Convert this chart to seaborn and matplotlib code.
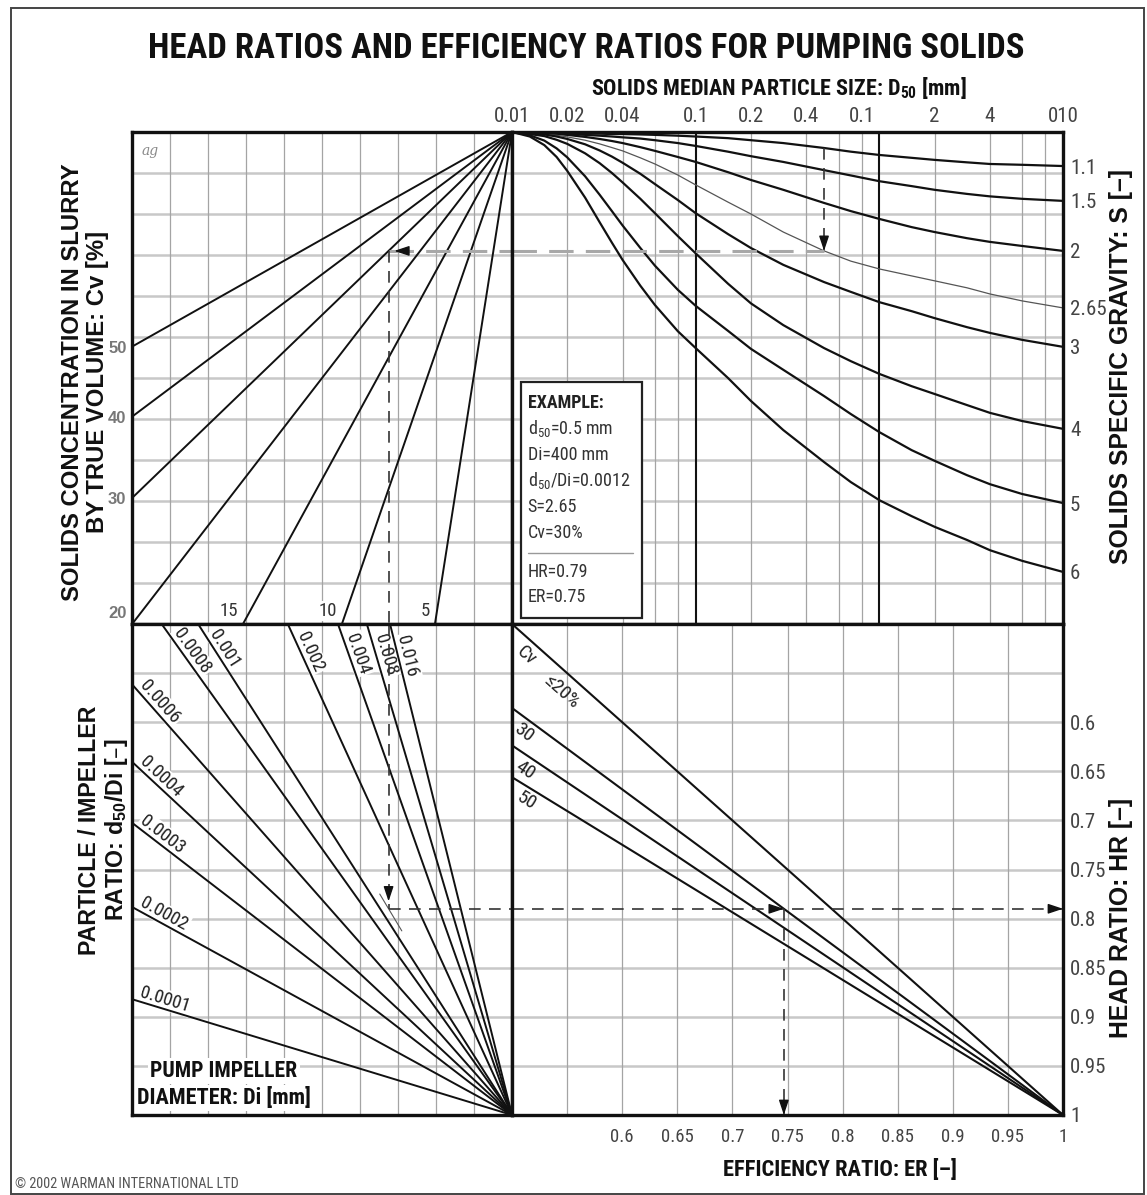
import os
import numpy as np
import pandas as pd
import matplotlib
matplotlib.use("Agg")
import matplotlib.pyplot as plt
import seaborn as sns
from matplotlib import font_manager
from matplotlib.font_manager import FontProperties
from matplotlib.patches import Rectangle
from matplotlib.ticker import NullLocator

# ---------------- values ----------------
d50_mm = [0.01, 0.0125, 0.015, 0.0175, 0.02, 0.025, 0.03, 0.035, 0.04, 0.05, 0.06, 0.08,
          0.1, 0.15, 0.2, 0.3, 0.5, 0.7, 1, 1.5, 2, 3, 4, 6, 10]
sg_names = ["1.1", "1.5", "2", "2.65", "3", "4", "5", "6"]
# depth of each S curve below the top edge, in grid rows (upper half has 12 rows)
sg_1_1 = [0, 0.02, 0.03, 0.03, 0.03, 0.04, 0.04, 0.05, 0.05, 0.06, 0.07, 0.09,
          0.11, 0.15, 0.20, 0.27, 0.39, 0.48, 0.56, 0.63, 0.68, 0.74, 0.78, 0.80, 0.83]
sg_1_5 = [0, 0.03, 0.03, 0.04, 0.05, 0.07, 0.09, 0.11, 0.13, 0.16, 0.20, 0.27,
          0.34, 0.48, 0.59, 0.73, 0.93, 1.06, 1.20, 1.32, 1.41, 1.51, 1.57, 1.63, 1.68]
sg_2 = [0, 0.03, 0.04, 0.05, 0.07, 0.12, 0.17, 0.22, 0.27, 0.37, 0.46, 0.61,
        0.73, 0.98, 1.17, 1.41, 1.73, 1.93, 2.12, 2.32, 2.44, 2.59, 2.68, 2.78, 2.90]
sg_2_65 = [0, 0.03, 0.05, 0.08, 0.12, 0.20, 0.29, 0.38, 0.46, 0.63, 0.78, 1.05,
           1.29, 1.71, 2.00, 2.44, 2.90, 3.15, 3.34, 3.51, 3.63, 3.80, 3.95, 4.12, 4.29]
sg_3 = [0, 0.03, 0.06, 0.11, 0.17, 0.30, 0.45, 0.60, 0.75, 1.02, 1.27, 1.66,
        1.98, 2.49, 2.83, 3.24, 3.66, 3.90, 4.15, 4.37, 4.54, 4.76, 4.90, 5.07, 5.24]
sg_4 = [0, 0.05, 0.10, 0.19, 0.29, 0.52, 0.76, 1.00, 1.23, 1.63, 1.98, 2.54,
        2.96, 3.70, 4.18, 4.71, 5.27, 5.59, 5.90, 6.20, 6.39, 6.66, 6.85, 7.05, 7.24]
sg_5 = [0, 0.08, 0.21, 0.40, 0.62, 1.08, 1.53, 1.93, 2.28, 2.83, 3.26, 3.85,
        4.24, 4.85, 5.29, 5.80, 6.44, 6.88, 7.32, 7.76, 8.02, 8.37, 8.59, 8.83, 9.05]
sg_6 = [0, 0.11, 0.32, 0.61, 0.95, 1.60, 2.20, 2.70, 3.12, 3.75, 4.22, 4.86,
        5.27, 6.00, 6.56, 7.27, 8.05, 8.54, 8.98, 9.37, 9.63, 9.95, 10.20, 10.46, 10.73]
sg_curves = [sg_1_1, sg_1_5, sg_2, sg_2_65, sg_3, sg_4, sg_5, sg_6]

# Cv fan (upper left): columns moved left per row down
cv_values = [50, 40, 30, 20, 15, 10, 5]
cv_spread = [1.91, 1.44, 1.12, 0.833, 0.59, 0.373, 0.169]

# d50/Di fan (lower left): columns moved left per row up
ratio_names = ["0.0001", "0.0002", "0.0003", "0.0004", "0.0006", "0.0008",
               "0.001", "0.002", "0.004", "0.008", "0.016"]
ratio_spread = [4.24, 2.36, 1.68, 1.39, 1.14, 0.922, 0.826, 0.59, 0.458, 0.382, 0.321]

# HR/ER lines (lower right): HR where each line meets ER = 0.5
er_cv_names = ["≤20%", "30", "40", "50"]
er_cv_hr_start = [0.5, 0.5855, 0.6236, 0.656]

top_ticks = [0.01, 0.02, 0.04, 0.1, 0.2, 0.4, 0.8, 2, 4, 10]
top_tick_text = ["0.01", "0.02", "0.04", "0.1", "0.2", "0.4", "0.1", "2", "4", "010"]
d50_grid = [0.02, 0.04, 0.06, 0.08, 0.2, 0.4, 0.6, 0.8, 2, 4, 6, 8]
d50_heavy = [0.1, 1]
ratio_ticks = [0.6, 0.65, 0.7, 0.75, 0.8, 0.85, 0.9, 0.95, 1.0]
ratio_tick_text = ["0.6", "0.65", "0.7", "0.75", "0.8", "0.85", "0.9", "0.95", "1"]
ratio_grid = [0.55, 0.6, 0.65, 0.7, 0.75, 0.8, 0.85, 0.9, 0.95]

ex_d50, ex_sg, ex_cv, ex_hr = 0.5, "2.65", 30, 0.79
example_text = ["d$_{50}$=0.5 mm", "Di=400 mm", "d$_{50}$/Di=0.0012", "S=2.65", "Cv=30%"]
example_result = ["HR=0.79", "ER=0.75"]

# ---------------- fonts: narrow sans for most text, plain bold sans for side titles ----------------
sns.set_theme(style="white")
files = {os.path.basename(f.fname): f.fname for f in font_manager.fontManager.ttflist}
narrow_pairs = [
    ("LiberationSansNarrow-Regular.ttf", "LiberationSansNarrow-Bold.ttf"),
    ("ArialNarrow.ttf", "ArialNarrowBold.ttf"),
    ("RobotoCondensed-Regular.ttf", "RobotoCondensed-Bold.ttf"),
    ("NotoSans-Condensed.ttf", "NotoSans-CondensedBold.ttf"),
    ("DejaVuSansCondensed.ttf", "DejaVuSansCondensed-Bold.ttf"),
]
WIDE = ["Liberation Sans", "DejaVu Sans"]
FP_REG = FontProperties(family=WIDE)
FP_BOLD = FontProperties(family=WIDE, weight="bold")
for reg, bold in narrow_pairs:
    if reg in files and bold in files:
        FP_REG = FontProperties(fname=files[reg])
        FP_BOLD = FontProperties(fname=files[bold])
        break
FP_WIDE_BOLD = FP_BOLD
for name in ["LiberationSans-Bold.ttf", "Arial_Bold.ttf", "Roboto-Bold.ttf", "DejaVuSans-Bold.ttf"]:
    if name in files:
        FP_WIDE_BOLD = FontProperties(fname=files[name])
        break
plt.rcParams["font.family"] = WIDE
plt.rcParams["mathtext.default"] = "regular"

W, H = 1147, 1195
fig = plt.figure(figsize=(W / 100, H / 100), dpi=100)
fig.patch.set_facecolor("white")
renderer = fig.canvas.get_renderer()

X0, XM, X1 = 132, 512, 1063
Y0, YM, Y1 = 132, 624, 1115


def panel(l, t, r, b):
    ax = fig.add_axes([l / W, 1 - b / H, (r - l) / W, (b - t) / H])
    ax.set_facecolor("white")
    for sp in ax.spines.values():
        sp.set_linewidth(2.4)
        sp.set_color("#111111")
        sp.set_zorder(6)
    ax.tick_params(which="both", length=0, pad=5)
    return ax


def style_ticks(labels, size, color="#444444", fp=None):
    for lab in labels:
        lab.set_fontproperties(fp or FP_REG)
        lab.set_fontsize(size)
        lab.set_color(color)


def grid(ax, xs, ys):
    for x in xs:
        ax.axvline(x, color="#a4a4a4", lw=0.9, zorder=0.5)
    for y in ys:
        ax.axhline(y, color="#c8c8c8", lw=1.8, zorder=0.4)


def head(ax, x, y, dx, dy, color="#111111"):
    ax.annotate("", xy=(x, y), xytext=(dx, dy), textcoords="offset points",
                arrowprops=dict(arrowstyle="-|>,head_length=0.6,head_width=0.2",
                                mutation_scale=15, color=color, lw=1.0,
                                shrinkA=0, shrinkB=0),
                annotation_clip=False, zorder=5)


def along(ax, far, near, text, s, g, below=False, **kw):
    a = ax.transData.transform(far)
    b = ax.transData.transform(near)
    d = (b - a) / np.hypot(*(b - a))
    n = np.array([-d[1], d[0]])
    pos = a + d * s + (-n if below else n) * g
    x, y = ax.transData.inverted().transform(pos)
    ax.text(x, y, text, rotation=np.degrees(np.arctan2(d[1], d[0])),
            rotation_mode="anchor", ha="left", va="top" if below else "bottom",
            fontproperties=FP_REG, **kw)


def ftext(x, y, s, target=None, vertical=False, fp=None, **kw):
    t = fig.text(x / W, 1 - y / H, s, ha=kw.pop("ha", "center"), va="center",
                 fontproperties=fp or FP_BOLD, **kw)
    if target:
        bb = t.get_window_extent(renderer)
        cur = bb.height if vertical else bb.width
        t.set_fontsize(t.get_fontsize() * target / cur)
    return t


# ---------------- upper left: Cv fan ----------------
ax_tl = panel(X0, Y0, XM, YM)
grid(ax_tl, range(1, 10), range(1, 12))
for cv, k in zip(cv_values, cv_spread):
    sns.lineplot(x=[10 - 12 * k, 10], y=[12, 0], ax=ax_tl, color="#111111",
                 linewidth=1.4, estimator=None)
ax_tl.set_xlim(0, 10)
ax_tl.set_ylim(12, 0)
ax_tl.set(xlabel="", ylabel="")
ax_tl.set_xticks([])
ax_tl.set_yticks([min(10 / k, 11.7) for k in cv_spread[:4]], [str(v) for v in cv_values[:4]])
style_ticks(ax_tl.get_yticklabels(), 12, "#777777", FP_WIDE_BOLD)
ax_tl.tick_params(axis="y", pad=4)
for cv, k in zip(cv_values[4:], cv_spread[4:]):
    ax_tl.text(10 - 12 * k - 0.12, 11.68, str(cv), ha="right", va="center",
               fontproperties=FP_REG, fontsize=13.5, color="#333333", zorder=1.5,
               bbox=dict(boxstyle="square,pad=0.05", fc="white", ec="none"))
ax_tl.text(0.025, 0.975, "ag", transform=ax_tl.transAxes, ha="left", va="top",
           family="DejaVu Serif", style="italic", fontsize=10, color="#8a8a8a")

# ---------------- upper right: S curves ----------------
ax_tr = panel(XM, Y0, X1, YM)
ax_tr.set_xscale("log")
grid(ax_tr, d50_grid, range(1, 12))
for x in d50_heavy:
    ax_tr.axvline(x, color="#111111", lw=1.5, zorder=1)
curve_df = pd.DataFrame({
    "d50": np.tile(d50_mm, len(sg_names)),
    "row": np.concatenate(sg_curves),
    "S": np.repeat(sg_names, len(d50_mm)),
})
for name, grp in curve_df.groupby("S", sort=False):
    thin = name == ex_sg
    sns.lineplot(data=grp, x="d50", y="row", ax=ax_tr, estimator=None, sort=False,
                 color="#555555" if thin else "#111111", linewidth=0.9 if thin else 1.6,
                 zorder=2)
ax_tr.set_xlim(0.01, 10)
ax_tr.set_ylim(12, 0)
ax_tr.set(xlabel="", ylabel="")
ax_tr.xaxis.tick_top()
ax_tr.set_xticks(top_ticks, top_tick_text)
ax_tr.xaxis.set_minor_locator(NullLocator())
ax_tr.yaxis.tick_right()
ax_tr.set_yticks([c[-1] for c in sg_curves], sg_names)
ax_tr.tick_params(axis="x", pad=4)
style_ticks(ax_tr.get_xticklabels() + ax_tr.get_yticklabels(), 15)

# example box
ax_tr.add_patch(Rectangle((0.0163, 0.0128), 0.22, 0.48, transform=ax_tr.transAxes,
                          fc="white", ec="#222222", lw=1.6, zorder=7))
ax_tr.text(0.0285, 0.4495, "EXAMPLE:", transform=ax_tr.transAxes, fontproperties=FP_BOLD,
           fontsize=13, color="#222222", va="center", zorder=8)
for i, line in enumerate(example_text):
    ax_tr.text(0.0285, 0.398 - i * 0.0535, line, transform=ax_tr.transAxes,
               fontproperties=FP_REG, fontsize=13, color="#333333", va="center", zorder=8)
ax_tr.plot([0.0285, 0.22], [0.144, 0.144], transform=ax_tr.transAxes, color="#999999",
           lw=1.0, zorder=8)
for i, line in enumerate(example_result):
    ax_tr.text(0.0285, 0.105 - i * 0.051, line, transform=ax_tr.transAxes,
               fontproperties=FP_REG, fontsize=13, color="#333333", va="center", zorder=8)

# ---------------- lower left: d50/Di fan ----------------
ax_bl = panel(X0, YM, XM, Y1)
grid(ax_bl, range(1, 10), range(1, 10))
for name, k in zip(ratio_names, ratio_spread):
    sns.lineplot(x=[10 - 10 * k, 10], y=[0, 10], ax=ax_bl, color="#111111",
                 linewidth=1.4, estimator=None, zorder=2)
ax_bl.set_xlim(0, 10)
ax_bl.set_ylim(10, 0)
ax_bl.set(xlabel="", ylabel="")
ax_bl.set_xticks([])
ax_bl.set_yticks([])
for name, k in zip(ratio_names, ratio_spread):
    if k >= 1:
        far, s = (0, 10 - 10 / k), 6
    else:
        far, s = (10 - 10 * k, 0), 14
    along(ax_bl, far, (10, 10), name, s, 0, fontsize=13.5, color="#222222", zorder=1.5,
          bbox=dict(boxstyle="square,pad=0.08", fc="white", ec="none"))

# ---------------- lower right: HR vs ER ----------------
ax_br = panel(XM, YM, X1, Y1)
grid(ax_br, ratio_grid, ratio_grid)
for name, h in zip(er_cv_names, er_cv_hr_start):
    sns.lineplot(x=[0.5, 1.0], y=[h, 1.0], ax=ax_br, color="#111111",
                 linewidth=1.5, estimator=None, zorder=2)
ax_br.set_xlim(0.5, 1.0)
ax_br.set_ylim(1.0, 0.5)
ax_br.set(xlabel="", ylabel="")
ax_br.set_xticks(ratio_ticks, ratio_tick_text)
ax_br.yaxis.tick_right()
ax_br.set_yticks(ratio_ticks, ratio_tick_text)
ax_br.tick_params(axis="x", pad=9)
style_ticks(ax_br.get_yticklabels(), 15)
style_ticks(ax_br.get_xticklabels(), 13.5)
for name, h in zip(er_cv_names, er_cv_hr_start):
    if name.startswith("≤"):
        along(ax_br, (0.5, h), (1, 1), "Cv", 22, 5, below=True, fontsize=14,
              style="italic", color="#222222")
        along(ax_br, (0.5, h), (1, 1), name, 62, 9, below=True, fontsize=14,
              style="italic", color="#222222")
    else:
        along(ax_br, (0.5, h), (1, 1), name, 15, 4, below=True, fontsize=14,
              style="italic", color="#222222")

# ---------------- worked example path ----------------
dark = dict(color="#333333", lw=1.2, ls=(0, (7, 5)), zorder=4)
light = dict(color="#a8a8a8", lw=2.2, ls=(0, (8, 4)), zorder=4)
row_ex = np.interp(np.log10(ex_d50), np.log10(d50_mm), sg_curves[sg_names.index(ex_sg)])
col_ex = 10 - cv_spread[cv_values.index(ex_cv)] * row_ex
hr_row = (ex_hr - 0.5) / 0.05
h_cv = er_cv_hr_start[er_cv_names.index(str(ex_cv))]
er_ex = 0.5 + 0.5 * (ex_hr - h_cv) / (1 - h_cv)

ax_tr.plot([ex_d50, ex_d50], [0.4, row_ex], **dark)
head(ax_tr, ex_d50, row_ex, 0, 9)
ax_tr.plot([0.01, ex_d50], [row_ex, row_ex], **light)
ax_tl.plot([col_ex, 10], [row_ex, row_ex], **light)
head(ax_tl, col_ex + 0.15, row_ex, 8, 0)
ax_tl.plot([col_ex, col_ex], [row_ex, 12], **dark)
ax_bl.plot([col_ex, col_ex], [0, hr_row], **dark)
head(ax_bl, col_ex, hr_row - 0.15, 0, 9)
ax_bl.plot([col_ex, 10], [hr_row, hr_row], **dark)
k_ex = (10 - col_ex) / (10 - hr_row)
stub = [hr_row - 0.3, hr_row + 0.45]
ax_bl.plot([10 - k_ex * (10 - r) for r in stub], stub, color="#555555", lw=0.8, zorder=3)
ax_br.plot([0.5, 1.0], [ex_hr, ex_hr], **dark)
head(ax_br, er_ex, ex_hr, -9, 0)
head(ax_br, 1.0, ex_hr, -9, 0)
ax_br.plot([er_ex, er_ex], [ex_hr, 1.0], **dark)
head(ax_br, er_ex, 1.0, 0, 9)

# ---------------- titles and axis names ----------------
ftext(586, 48, "HEAD RATIOS AND EFFICIENCY RATIOS FOR PUMPING SOLIDS", target=878,
      fontsize=26, color="#111111")
ftext(779, 88, "SOLIDS MEDIAN PARTICLE SIZE: D$_{50}$ [mm]", target=378,
      fontsize=14, color="#111111")
ftext(840, 1170, "EFFICIENCY RATIO: ER [–]", target=235, fontsize=14, color="#111111")

side = dict(color="#111111", rotation=90, vertical=True, fontsize=16, fp=FP_WIDE_BOLD,
            linespacing=1.1, multialignment="center")
ftext(85, 382, "SOLIDS CONCENTRATION IN SLURRY\nBY TRUE VOLUME: Cv [%]", target=438, **side)
ftext(104, 830, "PARTICLE / IMPELLER\nRATIO: d$_{50}$/Di [–]", target=250, **side)
sg_label = ftext(1121, 366, "SOLIDS SPECIFIC GRAVITY: S [–]", target=395, **side)
ftext(1121, 918, "HEAD RATIO: HR [–]", fontsize=sg_label.get_fontsize(), fp=FP_WIDE_BOLD,
      color="#111111", rotation=90)

pump = dict(color="#111111", fontsize=14,
            bbox=dict(boxstyle="square,pad=0.1", fc="white", ec="none"))
ftext(224, 1071, "PUMP IMPELLER", target=148, **pump)
ftext(224, 1098, "DIAMETER: Di [mm]", target=175, **pump)

ftext(15, 1184, "© 2002 WARMAN INTERNATIONAL LTD", target=225, ha="left", fp=FP_REG,
      fontsize=8, color="#555555")

fig.add_artist(Rectangle((11 / W, 1 - 1194 / H), (1144 - 11) / W, (1194 - 8) / H,
                         transform=fig.transFigure, fill=False, ec="#444444", lw=1.4))

fig.savefig("out.png", dpi=100, facecolor="white")
